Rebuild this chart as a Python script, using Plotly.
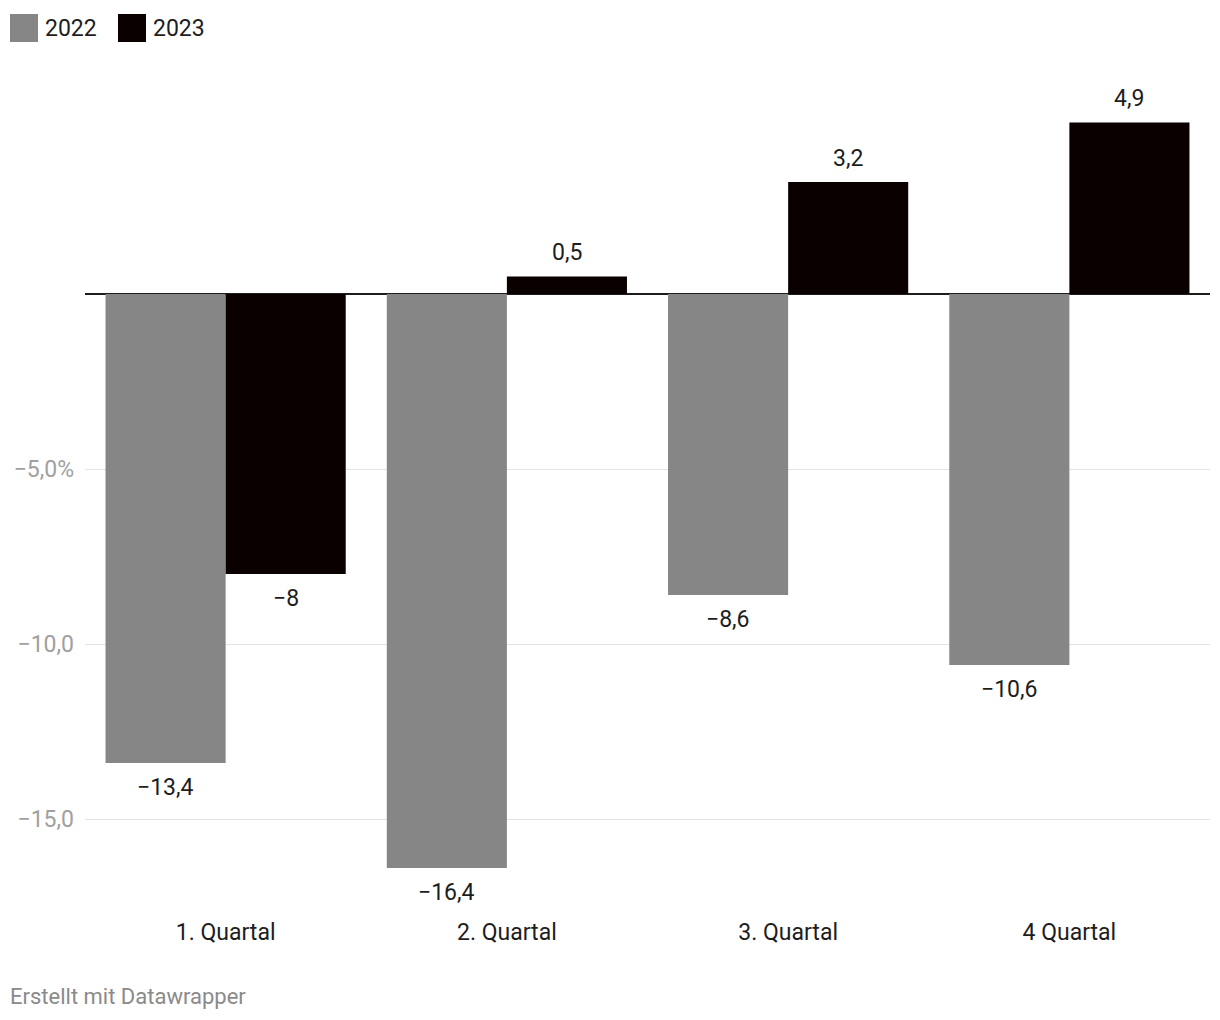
import plotly.graph_objects as go

# ---- data ----
categories = ["1. Quartal", "2. Quartal", "3. Quartal", "4 Quartal"]
series_names = ["2022", "2023"]
values_2022 = [-13.4, -16.4, -8.6, -10.6]
values_2023 = [-8.0, 0.5, 3.2, 4.9]
ytick_vals = [-15, -10, -5]
ytick_text = ["−15,0", "−10,0", "−5,0%"]
footer_text = "Erstellt mit Datawrapper"

# ---- style ----
colors = ["#868686", "#0b0000"]
FONT = "Roboto"
W, H = 1220, 1020
OFF = 8  # page body margin
ML, MR, MT, MB = 85 - OFF, 10 + OFF, 80 - OFF, 104 + OFF
Y_RANGE = [-17.77, 6.114]
BAR_PX = 120


def px_x(p):
    return (p - OFF - ML) / (W - ML - MR)


def px_y(p):
    return (H - MB - (p - OFF)) / (H - MT - MB)


def fmt(v):
    s = ("%g" % abs(v)).replace(".", ",")
    return ("−" + s) if v < 0 else s


series = [values_2022, values_2023]

fig = go.Figure()
for name, vals, col in zip(series_names, series, colors):
    fig.add_trace(go.Bar(x=categories, y=vals, name=name, marker_color=col,
                         marker_line_width=0, showlegend=False, hoverinfo="skip"))

annotations = []
for i, vals in enumerate(series):
    for cat, v in zip(categories, vals):
        annotations.append(dict(
            x=cat, y=v, xref="x", yref="y", text=fmt(v), showarrow=False,
            xshift=(i - 0.5) * BAR_PX, yshift=24 if v > 0 else -24,
            font=dict(family=FONT, size=23, color="#1d1d1d"),
            xanchor="center", yanchor="middle"))

# custom legend
shapes = []
leg_x = [10, 118]
for k, (name, col) in enumerate(zip(series_names, colors)):
    shapes.append(dict(type="rect", xref="paper", yref="paper",
                       x0=px_x(leg_x[k]), x1=px_x(leg_x[k] + 28),
                       y0=px_y(42), y1=px_y(14), fillcolor=col, line_width=0))
    annotations.append(dict(x=px_x(leg_x[k] + 33), y=px_y(28), xref="paper", yref="paper",
                            text=name, showarrow=False, xanchor="left", yanchor="middle",
                            font=dict(family=FONT, size=23, color="#1d1d1d")))

annotations.append(dict(x=px_x(8), y=px_y(996), xref="paper", yref="paper",
                        text=footer_text, showarrow=False, xanchor="left", yanchor="middle",
                        font=dict(family=FONT, size=22, color="#8a8a8a")))

fig.update_layout(
    width=W, height=H,
    margin=dict(l=ML, r=MR, t=MT, b=MB, pad=0, autoexpand=False),
    paper_bgcolor="white", plot_bgcolor="white",
    barmode="group", bargap=0.146, bargroupgap=0,
    font=dict(family=FONT),
    shapes=shapes, annotations=annotations,
    xaxis=dict(showgrid=False, showline=False, ticks="", zeroline=False, automargin=False,
               tickfont=dict(family=FONT, size=23, color="#1d1d1d")),
    yaxis=dict(range=Y_RANGE, tickvals=ytick_vals, ticktext=ytick_text, automargin=False,
               showgrid=True, gridcolor="#e3e3e3", gridwidth=1,
               zeroline=True, zerolinecolor="#1d1d1d", zerolinewidth=2,
               showline=False, ticks="", ticklabelstandoff=10,
               tickfont=dict(family=FONT, size=23, color="#a0a0a0")),
)

fig.write_html("out.html")
